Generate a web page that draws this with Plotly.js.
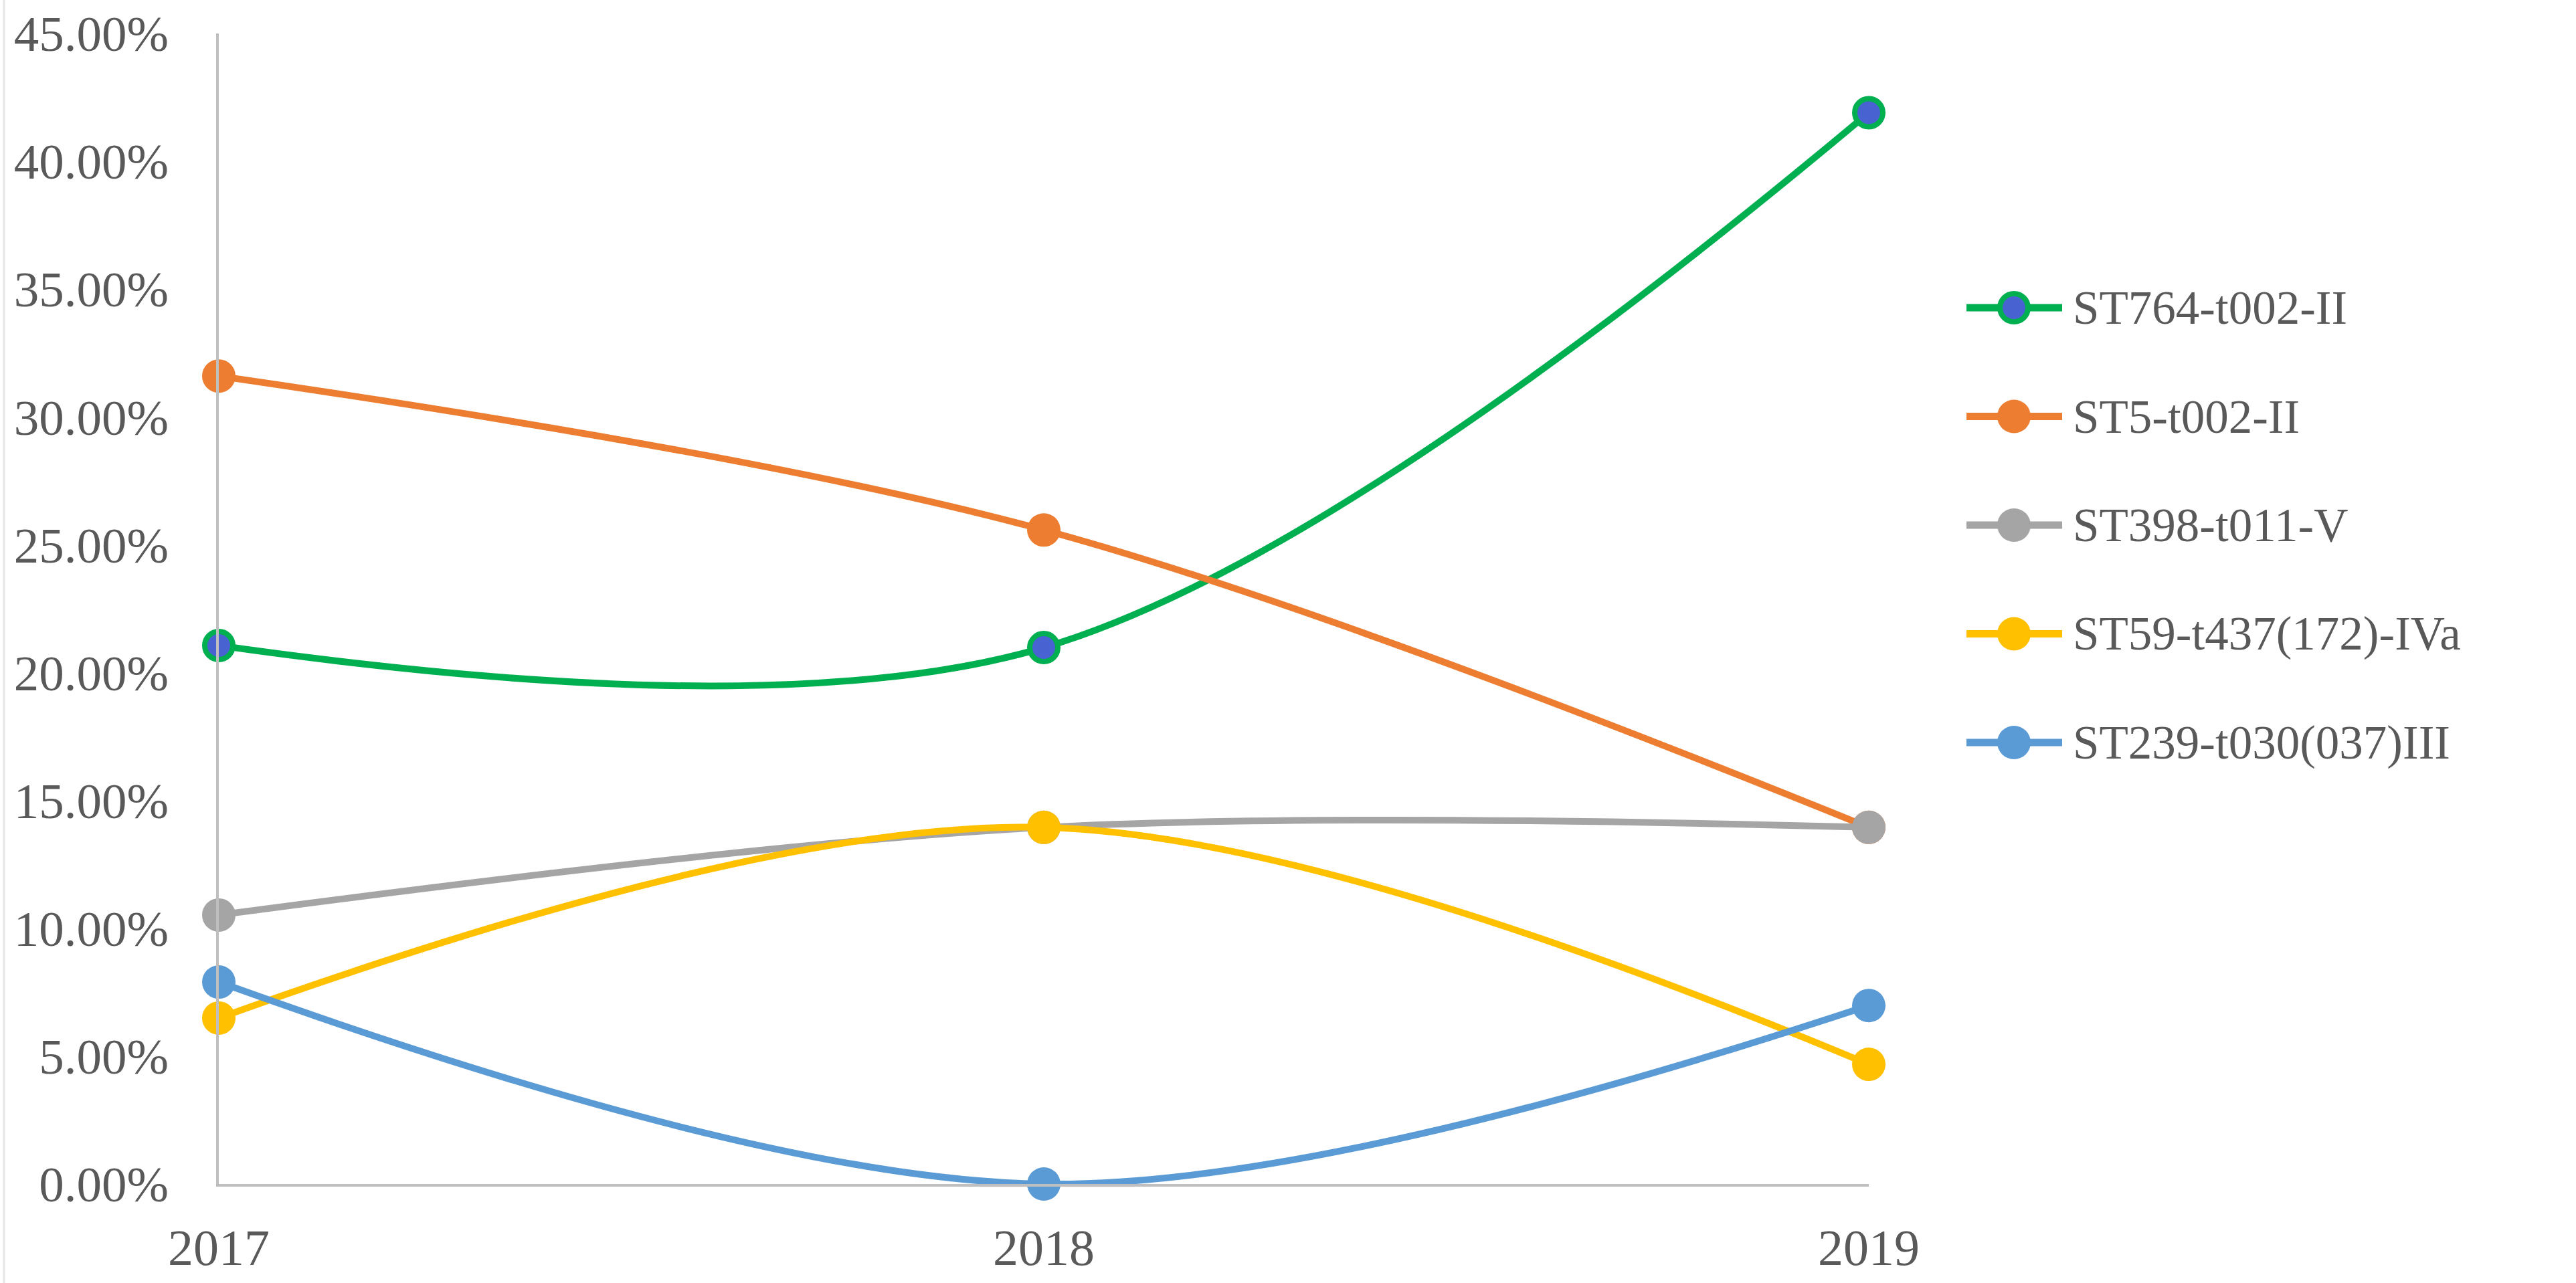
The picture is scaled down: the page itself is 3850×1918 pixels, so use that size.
<!DOCTYPE html>
<html>
<head>
<meta charset="utf-8">
<script src="https://cdn.plot.ly/plotly-3.0.1.min.js"></script>
<style>html,body{margin:0;padding:0;background:#fff;}#chart{width:3850px;height:1918px;}</style>
</head>
<body>
<div id="chart"></div>
<script>
// ---- data ----
const years = ['2017', '2018', '2019'];
const seriesNames = ['ST764-t002-II', 'ST5-t002-II', 'ST398-t011-V', 'ST59-t437(172)-IVa', 'ST239-t030(037)III'];
const st764 = [21.06, 20.98, 41.90];
const st5 = [31.60, 25.58, 13.95];
const st398 = [10.52, 13.95, 13.95];
const st59 = [6.49, 13.95, 4.68];
const st239 = [7.90, 0.00, 6.98];
const yTickVals = [0, 5, 10, 15, 20, 25, 30, 35, 40, 45];
const yTickText = ['0.00%', '5.00%', '10.00%', '15.00%', '20.00%', '25.00%', '30.00%', '35.00%', '40.00%', '45.00%'];

// ---- styles ----
const seriesValues = [st764, st5, st398, st59, st239];
const lineColors = ['#00B050', '#ED7D31', '#A5A5A5', '#FFC000', '#5B9BD5'];
const fillColors = ['#4863D1', '#ED7D31', '#A5A5A5', '#FFC000', '#5B9BD5'];
const borderW = [8, 0, 0, 0, 0];

const W = 3850, H = 1918;
const M = {l: 327, r: 3850 - 2793, t: 50, b: 1918 - 1770};
const PW = W - M.l - M.r, PH = H - M.t - M.b;
const px2x = p => (p - M.l) / PW;
const py2y = p => (H - M.b - p) / PH;
const FONT = 'Liberation Serif, Times New Roman, serif';
const TXT = '#595959';

const traces = seriesValues.map((vals, i) => ({
  type: 'scatter', mode: 'lines+markers',
  x: years, y: vals, name: seriesNames[i],
  cliponaxis: false, showlegend: false,
  line: {color: lineColors[i], width: 10, shape: 'spline', smoothing: 1},
  marker: {size: borderW[i] ? 42 : 50, color: fillColors[i],
           line: {color: lineColors[i], width: borderW[i]}}
}));

// legend drawn as shapes + annotations
const shapes = [];
const annotations = [];
const legTop = 460, legStep = 162.5;
const legX0 = 2939, legX1 = 3082, legMk = 3010, legTxt = 3096;
seriesNames.forEach((nm, i) => {
  const yp = py2y(legTop + i * legStep);
  shapes.push({type: 'line', xref: 'paper', yref: 'paper',
    x0: px2x(legX0), x1: px2x(legX1), y0: yp, y1: yp,
    line: {color: lineColors[i], width: 11}});
  const r = borderW[i] ? 21 : 25;
  shapes.push({type: 'circle', xref: 'paper', yref: 'paper',
    xsizemode: 'pixel', ysizemode: 'pixel',
    xanchor: px2x(legMk), yanchor: yp,
    x0: -r, x1: r, y0: -r, y1: r,
    fillcolor: fillColors[i],
    line: {color: lineColors[i], width: borderW[i] || 0.1}});
  annotations.push({xref: 'paper', yref: 'paper', x: px2x(legTxt), y: yp,
    xanchor: 'left', yanchor: 'middle', showarrow: false, text: nm,
    font: {family: FONT, size: 71, color: TXT}});
});
// faint image border at far left
shapes.push({type: 'line', xref: 'paper', yref: 'paper', x0: px2x(6), x1: px2x(6),
  y0: py2y(0), y1: py2y(1918), line: {color: '#e6e6e6', width: 3}, layer: 'below'});

const layout = {
  width: W, height: H,
  margin: M,
  paper_bgcolor: '#ffffff', plot_bgcolor: '#ffffff',
  font: {family: FONT, size: 74, color: TXT},
  showlegend: false,
  xaxis: {type: 'category', range: [0, 2], showgrid: false, zeroline: false,
    showline: true, linecolor: '#BFBFBF', linewidth: 4, ticks: '',
    ticklabelstandoff: 26, tickfont: {family: FONT, size: 76, color: TXT}},
  yaxis: {range: [0, 45], showgrid: false, zeroline: false,
    showline: true, linecolor: '#BFBFBF', linewidth: 4, ticks: '',
    tickvals: yTickVals, ticktext: yTickText, ticklabelstandoff: 56,
    tickfont: {family: FONT, size: 75, color: TXT}},
  shapes: shapes,
  annotations: annotations
};

Plotly.newPlot('chart', traces, layout, {displayModeBar: false, staticPlot: true});
</script>
</body>
</html>
